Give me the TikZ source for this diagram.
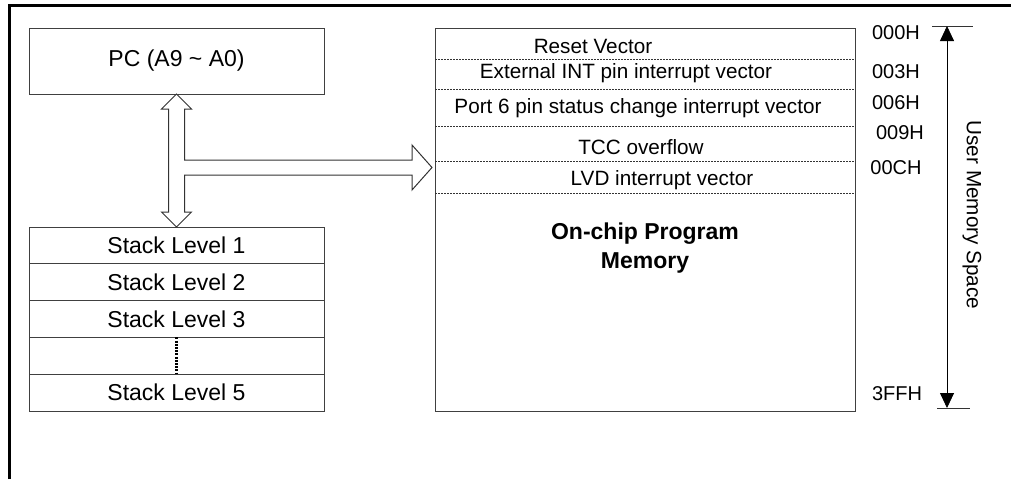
\documentclass[tikz,border=0pt]{standalone}
\usepackage{fontspec}
\setmainfont{Liberation Sans}
\usetikzlibrary{arrows.meta,calc,positioning}
\tikzset{>={Triangle[width=14pt,length=15pt]}}
\tikzset{
    box/.style={draw=black!75,line width=1pt,outer sep=0pt,inner sep=0pt,
        font=\fontsize{23}{27}\selectfont},
    stackbox/.style={box,minimum width=295pt,minimum height=36.8pt},
    vec/.style={inner sep=0pt,font=\fontsize{20.7}{24}\selectfont},
    addr/.style={inner sep=0pt,font=\fontsize{20}{24}\selectfont},
    sep/.style={draw=black!80,line width=0.8pt,dash pattern=on 2pt off 1pt},
    hollow/.style={draw=black!80,line width=1pt,fill=white,line join=miter}
}

\begin{document}
\begin{tikzpicture}[x=1pt,y=-1pt]
    \useasboundingbox (0,0) rectangle (1011,479);
    \draw[line width=3pt] (9.5,479) -- (9.5,5) -- (1011,5);

    \node[box,minimum width=295pt,minimum height=66pt] (pc) at (176.5,61) {PC (A9 \textasciitilde{} A0)};

    \node[stackbox] (s1) at (176.5,245.4) {Stack Level 1};
    \node[stackbox] (s2) [below=0pt of s1] {Stack Level 2};
    \node[stackbox] (s3) [below=0pt of s2] {Stack Level 3};
    \node[stackbox] (s4) [below=0pt of s3] {};
    \node[stackbox] (s5) [below=0pt of s4] {Stack Level 5};
    \draw[line width=2.5pt,dash pattern=on 2pt off 1.2pt] (s4.north) -- (s4.south);

    \node[box,minimum width=420pt,minimum height=383pt] (mem) at (645,219.5) {};
    \draw[sep] ($(mem.north west)+(0,31)$)  -- ($(mem.north east)+(0,31)$);
    \draw[sep] ($(mem.north west)+(0,61)$)  -- ($(mem.north east)+(0,61)$);
    \draw[sep] ($(mem.north west)+(0,98)$)  -- ($(mem.north east)+(0,98)$);
    \draw[sep] ($(mem.north west)+(0,133)$) -- ($(mem.north east)+(0,133)$);
    \draw[sep] ($(mem.north west)+(0,165)$) -- ($(mem.north east)+(0,165)$);
    \node[vec] (reset) at (593,46)  {Reset Vector};
    \node[vec] (extint) at (626,73) {External INT pin interrupt vector};
    \node[vec] (port6) at (638,108) {Port 6 pin status change interrupt vector};
    \node[vec] (tcc) at (641,147)   {TCC overflow};
    \node[vec] (lvd) at (662,180)   {LVD interrupt vector};
    \node[inner sep=0pt,align=center,font=\fontsize{23}{28.5}\selectfont\bfseries]
        (onchip) at (645,248) {On-chip Program\\Memory};

    % hollow bus arrows
    \coordinate (tip) at ($(mem.north west)+(-3,139.5)$);
    \draw[hollow] (pc.south) -- ++(15,15) -- ++(-7,0) |- ($(tip)+(-20,-7.5)$)
        -- ++(0,-15) -- (tip) -- ++(-20,22.5) -- ++(0,-15)
        -| ($(s1.north)+(8,-15)$) -- ++(7,0) -- (s1.north) -- ++(-15,-15)
        -- ++(7,0) |- ($(pc.south)+(-8,15)$) -- ++(-7,0) -- cycle;

    % addresses
    \node[addr] (a000) at (896,33)  {000H};
    \node[addr] (a003) at (896,72)  {003H};
    \node[addr] (a006) at (896,103) {006H};
    \node[addr] (a009) at (900,133) {009H};
    \node[addr] (a00c) at (896,168) {00CH};
    \node[addr] (a3ff) at (897,394) {3FFH};

    \coordinate (top) at (947,26);
    \coordinate (bot) at (947,408);
    \draw[black!80,line width=0.8pt] ($(top)+(-15,0)$) -- ($(top)+(26,0)$);
    \draw[black!80,line width=0.8pt] ($(bot)+(-10,0)$) -- ($(bot)+(23,0)$);
    \draw[<->,line width=0.8pt] (top) -- (bot);
    \node[vec,rotate=-90] (user) at (972,215) {User Memory Space};
\end{tikzpicture}
\end{document}
